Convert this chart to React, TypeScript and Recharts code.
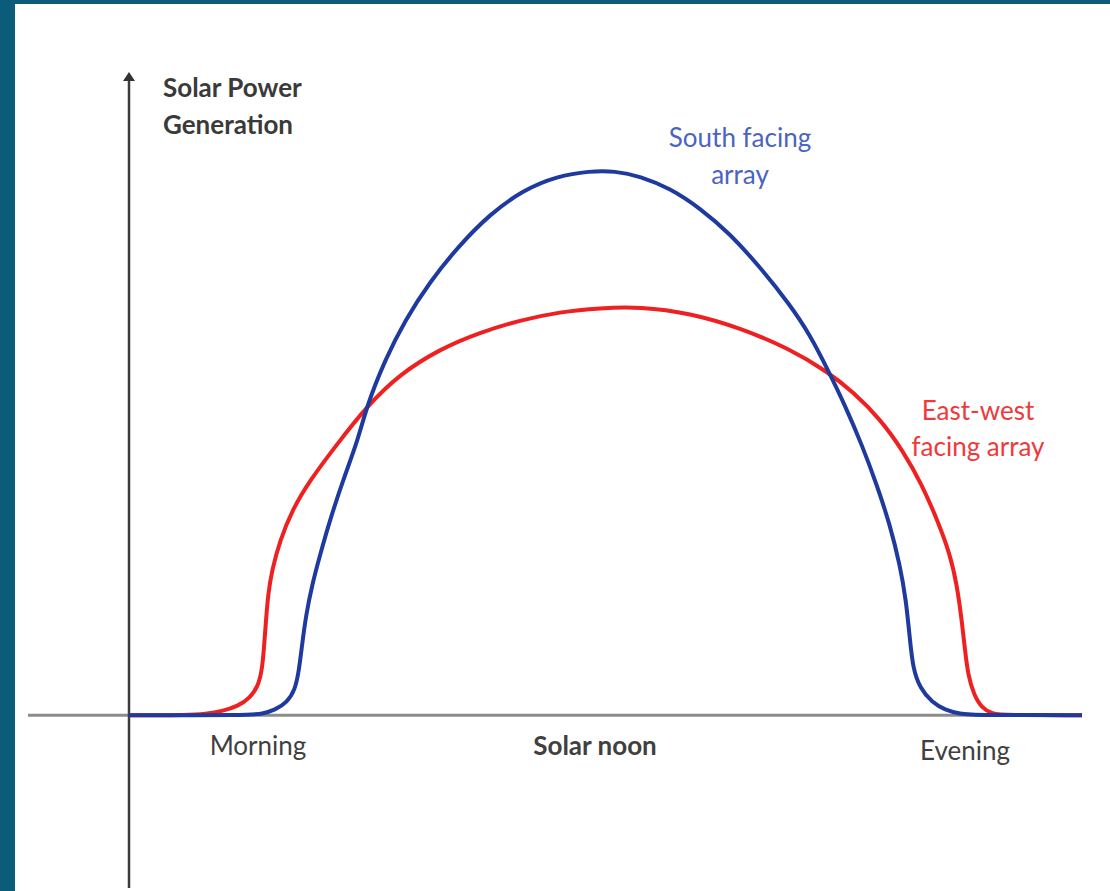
import { LineChart, Line, XAxis, YAxis, ReferenceLine, ReferenceDot } from 'recharts';

// time along the day (arbitrary units, 0 = vertical axis) and relative power
const southX = [0, 12.1, 13.3, 14.6, 15.8, 16.6, 17.0, 17.3, 17.7, 18.3, 19.1, 20.1, 21.4, 22.9, 23.8, 25.6, 27.6, 30.1, 32.8, 36.1, 39.4, 42.8, 46.1, 48.6, 51.1, 54.1, 57.1, 60.1, 63.1, 66.1, 68.1, 69.9, 71.6, 73.3, 74.8, 76.1, 77.1, 77.7, 78.1, 78.4, 79.1, 80.3, 81.6, 83.1, 84.6, 95.3];
const southY = [0, 0, 0.2, 0.8, 2.0, 3.9, 7.0, 10.9, 15.6, 20.3, 25.0, 30.5, 36.7, 43.0, 48.4, 55.5, 61.7, 67.7, 73.0, 78.3, 82.0, 84.2, 85.0, 85.0, 84.2, 82.3, 79.2, 75.2, 70.0, 64.1, 59.4, 53.9, 48.4, 42.2, 35.9, 29.7, 23.4, 18.0, 11.7, 7.3, 4.2, 2.0, 0.8, 0.2, 0, 0];

const eastWestX = [0, 6.1, 7.6, 9.3, 10.9, 12.1, 12.9, 13.3, 13.5, 13.7, 13.9, 14.3, 15.1, 16.3, 18.1, 20.6, 23.8, 27.1, 31.1, 35.1, 39.1, 43.1, 47.1, 51.1, 56.1, 61.1, 66.1, 69.9, 72.4, 75.1, 77.4, 79.3, 80.8, 82.1, 82.8, 83.3, 83.6, 83.9, 84.5, 85.3, 86.3, 87.6, 95.3];
const eastWestY = [0, 0, 0.2, 0.6, 1.4, 2.7, 4.5, 7.0, 10.5, 14.8, 18.8, 22.7, 27.3, 32.0, 36.7, 41.9, 48.3, 53.3, 57.2, 59.8, 61.7, 63.0, 63.6, 63.8, 62.8, 60.5, 57.2, 53.6, 50.5, 46.3, 41.3, 36.0, 30.6, 25.2, 20.3, 14.5, 10.2, 6.3, 3.1, 1.1, 0.2, 0, 0];

const timeLabels = ['Morning', 'Solar noon', 'Evening'];
const timeLabelX = [12.9, 46.6, 83.6];
const timeLabelY = [-4.7, -4.7, -5.5];

const axisTitle = ['Solar Power', 'Generation'];
const southLabel = ['South facing', 'array'];
const eastWestLabel = ['East-west', 'facing array'];

const toPoints = (xs: number[], ys: number[]) => xs.map((t, i) => ({ t, p: ys[i] }));
const southData = toPoints(southX, southY);
const eastWestData = toPoints(eastWestX, eastWestY);

const FONT = 'Lato, "Open Sans", sans-serif';

const textShape = (lines: string[], color: string, anchor: string, weight: number, gap = 37) => (props: any) => (
  <text
    x={props.cx}
    y={props.cy}
    fill={color}
    fontFamily={FONT}
    fontSize={26}
    fontWeight={weight}
    textAnchor={anchor as any}
    dominantBaseline="central"
  >
    {lines.map((l, i) => (
      <tspan key={i} x={props.cx} dy={i === 0 ? 0 : gap}>
        {l}
      </tspan>
    ))}
  </text>
);

const arrowShape = (props: any) => (
  <polygon
    points={`${props.cx},${props.cy - 3} ${props.cx - 6},${props.cy + 6} ${props.cx + 6},${props.cy + 6}`}
    fill="#333"
  />
);

export default function App() {
  return (
    <div style={{ position: 'relative', width: 1110, height: 891, background: '#fff', overflow: 'hidden' }}>
      <style>{'body{margin:0}'}</style>
      <div style={{ position: 'absolute', left: 0, top: 0, width: 15, height: 891, background: '#0a5c78' }} />
      <div style={{ position: 'absolute', left: 0, top: 0, width: 1110, height: 4, background: '#0a5c78' }} />
      <div style={{ position: 'absolute', left: 0, top: 0 }}>
        <LineChart width={1110} height={891} margin={{ top: 75, right: 28, bottom: 3, left: 28 }}>
          <XAxis type="number" dataKey="t" domain={[-10.1, 95.3]} hide allowDataOverflow />
          <YAxis type="number" domain={[-27, 100]} hide allowDataOverflow />
          <ReferenceLine y={0} stroke="#8c8c8c" strokeWidth={3} />
          <ReferenceLine x={0} stroke="#3c3c3c" strokeWidth={2.5} />
          <ReferenceDot x={0} y={100} r={0} shape={arrowShape} />
          <Line
            data={eastWestData}
            dataKey="p"
            type="basis"
            stroke="#ee2020"
            strokeWidth={4}
            dot={false}
            activeDot={false}
            isAnimationActive={false}
          />
          <Line
            data={southData}
            dataKey="p"
            type="basis"
            stroke="#1f3a9e"
            strokeWidth={4}
            dot={false}
            activeDot={false}
            isAnimationActive={false}
          />
          <ReferenceDot x={3.4} y={98.1} r={0} shape={textShape(axisTitle, '#3a3a3a', 'start', 700)} />
          <ReferenceDot x={61.1} y={90.3} r={0} shape={textShape(southLabel, '#4a64c0', 'middle', 400)} />
          <ReferenceDot x={84.9} y={47.7} r={0} shape={textShape(eastWestLabel, '#ee3a3a', 'middle', 400, 36)} />
          {timeLabels.map((label, i) => (
            <ReferenceDot
              key={label}
              x={timeLabelX[i]}
              y={timeLabelY[i]}
              r={0}
              shape={textShape([label], '#404040', 'middle', i === 1 ? 700 : 400)}
            />
          ))}
        </LineChart>
      </div>
    </div>
  );
}
